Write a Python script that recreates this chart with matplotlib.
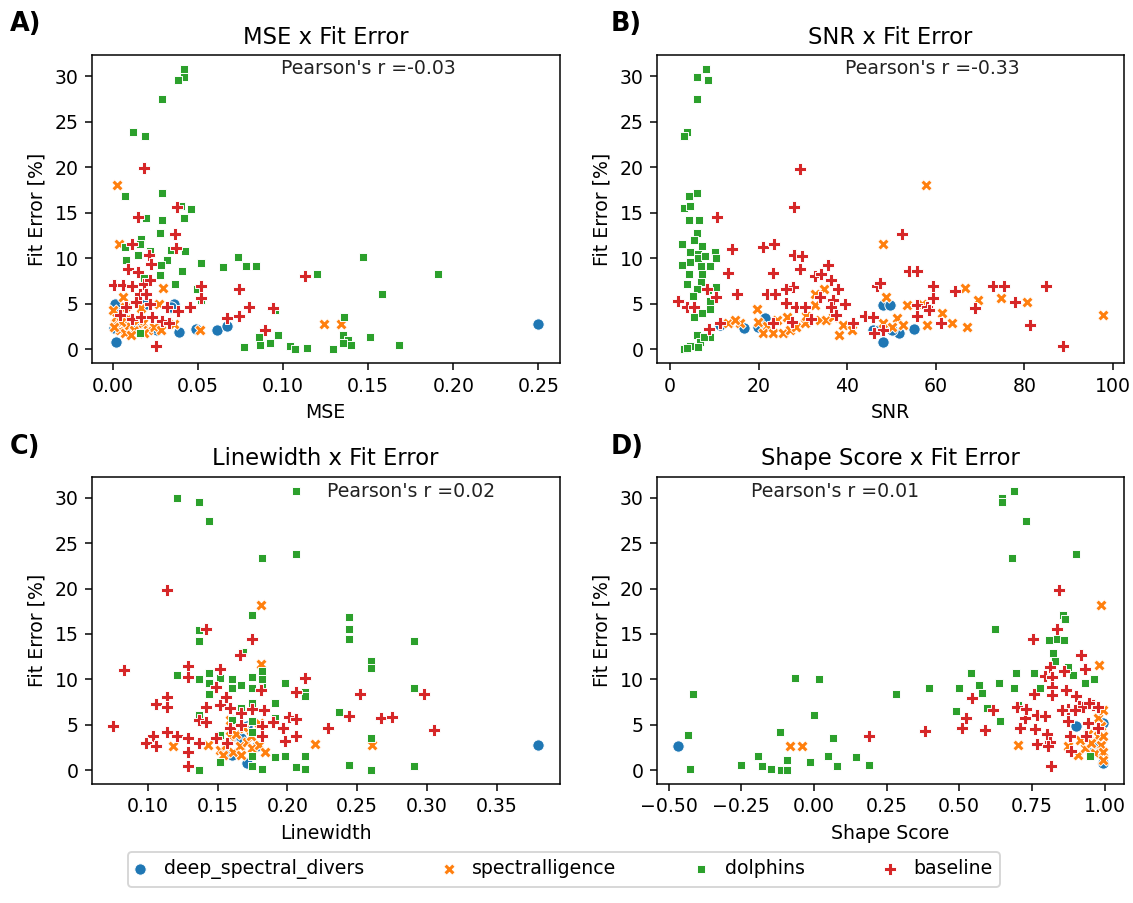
import matplotlib
matplotlib.use("Agg")
import matplotlib.pyplot as plt

# ---------------- data ----------------
teams = ["deep_spectral_divers", "spectralligence", "dolphins", "baseline"]
team_colors = ["#1f77b4", "#ff7f0e", "#2ca02c", "#d62728"]
team_markers = ["o", "X", (4, 0, 45), "P"]

titles = ["MSE x Fit Error", "SNR x Fit Error", "Linewidth x Fit Error", "Shape Score x Fit Error"]
xlabels = ["MSE", "SNR", "Linewidth", "Shape Score"]
panel_tags = ["A)", "B)", "C)", "D)"]
pearson_r = ["-0.03", "-0.33", "0.02", "0.01"]

# Panel A: MSE vs fit error
mse_deep = [(0.002, 0.85), (0.0195, 5.0), (0.036, 5.0), (0.034, 4.7), (0.0259, 2.1), (0.039, 1.95),
            (0.0487, 2.2), (0.0613, 2.1), (0.067, 2.55), (0.001, 5.0), (0.0005, 2.3), (0.003, 3.95),
            (0.0146, 2.5), (0.250, 2.8)]
mse_spec = [(0.0025, 18.1), (0.0033, 11.6), (0.0296, 6.7), (0.0058, 5.8), (0.0272, 5.0), (0.036, 2.8),
            (0.0512, 2.1), (0.124, 2.8), (0.134, 2.8), (0.001, 2.85), (0.0039, 2.1), (0.0068, 1.75),
            (0.0097, 2.7), (0.0019, 3.6), (0.0126, 2.1), (0.0175, 2.85), (0.0204, 2.1), (0.0243, 2.5),
            (0.0088, 3.4), (0.0146, 3.2), (0.0107, 1.6), (0.0185, 1.75), (0.028, 2.1), (0.000, 4.3),
            (0.0049, 3.0), (0.0068, 4.7), (0.0165, 4.5), (0.0005, 2.5)]
mse_dolph = [(0.0415, 30.8), (0.0415, 29.9), (0.0383, 29.6), (0.0286, 27.5), (0.0117, 23.9), (0.0189, 23.4),
             (0.0068, 16.9), (0.0286, 17.2), (0.046, 15.4), (0.040, 15.7), (0.042, 14.4), (0.0286, 14.2),
             (0.0195, 14.4), (0.0278, 12.8), (0.0165, 12.1), (0.016, 11.6), (0.0068, 11.2), (0.015, 10.4),
             (0.0078, 9.8), (0.0424, 10.8), (0.034, 10.9), (0.032, 9.8), (0.028, 9.3), (0.022, 10.8),
             (0.052, 9.5), (0.0403, 8.6), (0.0278, 8.2), (0.0185, 7.8), (0.0364, 7.2), (0.0496, 6.6),
             (0.0734, 10.1), (0.0648, 9.0), (0.0784, 9.1), (0.0843, 9.1), (0.120, 8.3), (0.147, 10.1),
             (0.191, 8.3), (0.158, 6.1), (0.0954, 4.3), (0.136, 3.5), (0.0516, 5.4), (0.0156, 1.8),
             (0.0856, 1.3), (0.0967, 1.6), (0.135, 1.6), (0.138, 1.0), (0.151, 1.4), (0.077, 0.2),
             (0.0862, 0.5), (0.0924, 0.7), (0.104, 0.4), (0.107, 0.0), (0.114, 0.1), (0.129, 0.0),
             (0.135, 0.7), (0.140, 0.5), (0.168, 0.5)]
mse_base = [(0.0185, 19.9), (0.015, 14.5), (0.0376, 15.6), (0.0366, 12.7), (0.037, 11.1), (0.011, 11.6),
            (0.0214, 10.4), (0.0224, 9.4), (0.0088, 8.8), (0.0146, 8.5), (0.0006, 7.1), (0.0058, 7.1),
            (0.011, 7.0), (0.018, 7.2), (0.022, 7.6), (0.0156, 6.1), (0.0195, 6.1), (0.0516, 7.0),
            (0.074, 6.6), (0.113, 8.0), (0.0078, 4.7), (0.0136, 5.2), (0.022, 5.0), (0.032, 4.7),
            (0.038, 4.2), (0.045, 4.6), (0.0516, 5.6), (0.080, 4.6), (0.094, 4.5), (0.074, 3.7),
            (0.067, 3.4), (0.0039, 3.8), (0.011, 3.3), (0.0165, 3.6), (0.023, 3.6), (0.0286, 3.1),
            (0.033, 2.9), (0.0895, 2.1), (0.0253, 0.4)]

# Panel B: SNR vs fit error
snr_deep = [(11.4, 2.7), (16.8, 2.3), (19.9, 2.4), (21.4, 3.4), (48.0, 4.9), (49.6, 4.9), (48.0, 0.85),
            (45.8, 2.1), (47.2, 2.1), (51.7, 1.8), (55.1, 2.2), (50.2, 2.1)]
snr_spec = [(57.7, 18.1), (48.0, 11.6), (48.8, 5.7), (48.2, 2.9), (34.7, 6.6), (32.7, 6.1), (32.7, 4.9),
            (19.7, 4.4), (19.9, 3.0), (13.0, 2.85), (15.7, 2.9), (14.7, 3.2), (21.8, 2.55), (24.1, 3.2),
            (26.4, 3.6), (21.1, 1.8), (23.3, 1.75), (25.6, 1.75), (27.0, 2.1), (28.5, 2.5), (30.4, 2.85),
            (30.8, 3.65), (33.8, 3.2), (35.3, 3.2), (36.8, 3.6), (38.1, 1.6), (39.0, 2.7), (41.2, 2.1),
            (51.3, 3.4), (50.2, 2.5), (52.5, 2.7), (53.6, 4.9), (56.8, 5.0), (58.0, 2.7), (61.5, 4.0),
            (63.7, 2.9), (66.7, 6.7), (69.6, 5.4), (67.1, 2.5), (74.8, 5.6), (80.7, 5.2), (97.7, 3.8)]
snr_dolph = [(8.2, 30.8), (6.0, 29.9), (8.5, 29.6), (6.0, 27.5), (3.8, 23.9), (3.2, 23.4), (4.2, 16.9),
             (6.0, 17.2), (3.2, 15.5), (4.6, 15.7), (4.2, 14.2), (6.5, 14.2), (6.0, 12.8), (5.5, 12.0),
             (2.8, 11.6), (7.2, 11.3), (4.6, 10.7), (6.3, 10.5), (10.1, 10.7), (10.3, 10.0), (6.3, 10.0),
             (8.0, 10.2), (2.8, 9.3), (4.6, 9.6), (6.9, 9.1), (9.0, 9.1), (4.4, 8.3), (7.2, 8.3),
             (3.9, 7.2), (6.9, 7.4), (6.1, 6.6), (10.5, 6.8), (5.2, 5.9), (8.5, 6.5), (9.0, 5.3),
             (9.1, 4.4), (7.2, 4.0), (5.5, 3.5), (6.0, 1.6), (9.1, 1.3), (6.7, 0.8), (7.6, 1.4),
             (3.2, 0.0), (4.6, 0.4), (6.3, 0.2), (3.9, 0.1)]
snr_base = [(1.8, 5.3), (3.8, 4.6), (5.5, 4.6), (8.4, 6.6), (10.3, 5.8), (10.7, 14.5), (14.0, 11.0),
            (13.2, 8.4), (15.1, 6.1), (8.8, 2.2), (11.4, 2.85), (20.9, 11.2), (23.5, 11.6), (23.2, 8.4),
            (21.8, 6.1), (23.7, 6.1), (23.3, 2.9), (29.4, 19.8), (27.9, 15.6), (27.9, 10.4), (29.7, 10.2),
            (29.3, 8.8), (27.8, 6.8), (26.2, 6.6), (26.2, 5.1), (28.5, 4.7), (30.4, 4.7), (27.6, 3.0),
            (31.9, 3.3), (32.7, 8.0), (34.1, 8.3), (35.6, 9.3), (36.4, 7.6), (37.9, 6.6), (33.8, 5.8),
            (36.8, 5.4), (36.4, 4.7), (37.4, 3.8), (39.5, 5.0), (41.3, 2.9), (44.1, 3.7), (45.8, 3.6),
            (46.7, 7.0), (47.4, 7.3), (48.0, 2.1), (52.3, 12.7), (54.0, 8.6), (55.7, 8.6), (55.7, 4.9),
            (55.7, 3.7), (59.4, 7.0), (59.4, 5.6), (58.0, 4.7), (58.4, 4.3), (61.1, 2.9), (64.4, 6.4),
            (68.9, 4.5), (73.0, 7.0), (75.5, 7.0), (77.8, 5.2), (81.2, 2.7), (84.9, 7.0), (88.7, 0.4),
            (46.1, 1.8)]

# Panel C: linewidth vs fit error
lw_deep = [(0.161, 3.7), (0.171, 0.75), (0.160, 1.65), (0.167, 3.5), (0.178, 2.6), (0.156, 2.0),
           (0.171, 4.8), (0.380, 2.8)]
lw_spec = [(0.181, 18.2), (0.181, 11.7), (0.118, 2.65), (0.143, 2.75), (0.220, 2.9), (0.261, 2.75),
           (0.152, 2.2), (0.156, 2.75), (0.161, 2.0), (0.166, 2.6), (0.171, 3.1), (0.175, 2.4),
           (0.180, 2.75), (0.159, 3.7), (0.163, 4.0), (0.169, 4.6), (0.159, 5.5), (0.180, 5.2),
           (0.154, 1.65), (0.167, 1.65), (0.174, 3.7), (0.184, 2.0)]
lw_dolph = [(0.206, 30.8), (0.121, 30.0), (0.137, 29.6), (0.144, 27.5), (0.206, 23.8), (0.182, 23.4),
            (0.175, 17.1), (0.244, 16.9), (0.244, 15.5), (0.244, 14.4), (0.291, 14.2), (0.137, 15.4),
            (0.137, 14.2), (0.168, 13.0), (0.260, 12.0), (0.260, 11.3), (0.121, 10.5), (0.137, 10.0),
            (0.144, 10.7), (0.144, 9.6), (0.152, 10.1), (0.160, 10.0), (0.160, 9.0), (0.167, 9.4),
            (0.175, 10.3), (0.175, 9.0), (0.182, 10.9), (0.182, 10.0), (0.182, 9.2), (0.198, 9.6),
            (0.213, 8.6), (0.213, 8.2), (0.291, 9.0), (0.144, 8.4), (0.175, 7.4), (0.191, 7.4),
            (0.167, 6.8), (0.237, 6.4), (0.137, 6.1), (0.175, 5.4), (0.191, 5.7), (0.175, 4.2),
            (0.152, 3.9), (0.260, 3.5), (0.175, 1.5), (0.191, 1.4), (0.198, 1.5), (0.213, 1.5),
            (0.152, 0.85), (0.175, 0.45), (0.182, 0.1), (0.206, 0.3), (0.213, 0.1), (0.244, 0.55),
            (0.260, 0.0), (0.291, 0.45), (0.137, 0.0), (0.160, 5.5)]
lw_base = [(0.1135, 19.9), (0.0827, 11.0), (0.075, 4.8), (0.1416, 15.5), (0.175, 14.4), (0.166, 12.7),
           (0.129, 11.5), (0.129, 10.3), (0.152, 11.1), (0.149, 9.2), (0.156, 8.1), (0.106, 7.3),
           (0.1135, 8.1), (0.1135, 6.9), (0.142, 6.9), (0.152, 7.2), (0.159, 6.8), (0.167, 6.3),
           (0.175, 6.7), (0.183, 6.6), (0.181, 8.8), (0.206, 8.6), (0.213, 10.2), (0.201, 5.9),
           (0.206, 5.6), (0.252, 8.4), (0.244, 6.0), (0.267, 5.7), (0.275, 5.9), (0.298, 8.4),
           (0.305, 4.4), (0.229, 4.6), (0.190, 5.3), (0.197, 4.6), (0.182, 4.8), (0.137, 5.5),
           (0.142, 5.3), (0.159, 4.6), (0.167, 5.0), (0.1135, 4.2), (0.121, 3.75), (0.104, 3.7),
           (0.099, 2.95), (0.106, 2.6), (0.129, 3.5), (0.129, 2.0), (0.129, 0.45), (0.137, 2.95),
           (0.182, 3.7), (0.198, 3.2), (0.206, 3.7), (0.157, 2.95), (0.149, 3.5)]

# Panel D: shape score vs fit error
shp_deep = [(-0.468, 2.65), (0.994, 0.75), (0.903, 4.8), (0.977, 2.6), (0.954, 1.85), (0.994, 5.2)]
shp_spec = [(0.989, 18.2), (0.981, 11.6), (0.704, 2.75), (-0.083, 2.65), (-0.041, 2.65), (0.977, 5.7),
            (0.989, 4.8), (0.977, 3.7), (0.989, 2.75), (0.909, 1.65), (0.932, 2.4), (0.954, 2.95),
            (0.966, 1.85), (0.994, 2.0), (0.994, 1.1), (0.915, 3.3), (0.875, 2.6), (0.943, 4.0),
            (0.994, 6.6), (0.994, 3.7)]
shp_dolph = [(0.690, 30.8), (0.647, 30.0), (0.647, 29.5), (0.730, 27.5), (0.681, 23.4), (0.903, 23.8),
             (0.622, 15.5), (0.858, 17.1), (0.863, 16.7), (0.810, 14.3), (0.835, 14.4), (0.861, 14.3),
             (0.824, 12.9), (0.829, 12.0), (0.875, 11.4), (0.542, 10.7), (0.695, 10.7), (0.759, 10.7),
             (0.892, 10.5), (0.932, 9.6), (0.964, 10.0), (0.567, 9.4), (0.636, 9.6), (0.579, 8.5),
             (0.499, 9.0), (0.687, 9.0), (0.778, 9.0), (0.395, 9.0), (0.281, 8.4), (0.488, 6.5),
             (0.596, 6.8), (0.641, 5.4), (0.702, 7.2), (0.949, 1.55), (-0.417, 8.4), (-0.434, 3.9),
             (-0.428, 0.1), (-0.064, 10.1), (0.016, 10.0), (0.001, 6.1), (-0.118, 4.2), (0.064, 3.5),
             (-0.250, 0.55), (-0.193, 1.5), (-0.178, 0.45), (-0.147, 0.1), (-0.115, 0.0), (-0.093, 0.0),
             (-0.093, 1.1), (-0.015, 0.85), (0.050, 1.55), (0.080, 0.45), (0.144, 1.4), (0.190, 0.5)]
shp_base = [(0.190, 3.7), (0.383, 4.3), (0.511, 4.6), (0.522, 5.7), (0.545, 7.9), (0.588, 4.4),
            (0.615, 6.6), (0.698, 7.0), (0.710, 4.6), (0.727, 5.7), (0.729, 6.7), (0.755, 14.4),
            (0.759, 8.4), (0.767, 6.1), (0.761, 4.5), (0.767, 2.9), (0.795, 6.0), (0.801, 4.0),
            (0.795, 10.4), (0.812, 11.4), (0.820, 10.3), (0.818, 9.2), (0.820, 8.3), (0.843, 19.9),
            (0.835, 15.5), (0.861, 10.9), (0.869, 8.8), (0.875, 6.7), (0.875, 5.4), (0.880, 3.75),
            (0.812, 3.1), (0.806, 2.6), (0.816, 0.4), (0.886, 2.1), (0.903, 8.2), (0.918, 12.7),
            (0.932, 11.1), (0.911, 7.1), (0.926, 7.0), (0.943, 5.2), (0.938, 3.7), (0.960, 7.2),
            (0.977, 7.0), (0.977, 4.6), (0.945, 7.4), (0.898, 6.6), (0.854, 6.6)]

panels = [
    [mse_deep, mse_spec, mse_dolph, mse_base],
    [snr_deep, snr_spec, snr_dolph, snr_base],
    [lw_deep, lw_spec, lw_dolph, lw_base],
    [shp_deep, shp_spec, shp_dolph, shp_base],
]

# ---------------- layout ----------------
W, H, DPI = 1133, 903, 136
fig = plt.figure(figsize=(W / DPI, H / DPI), dpi=DPI)

axes_rects = [
    (91.7 / W, 1 - 363.3 / H, 468 / W, 308.3 / H),
    (656.7 / W, 1 - 363.3 / H, 467.3 / W, 308.3 / H),
    (91.7 / W, 1 - 784 / H, 468 / W, 307.3 / H),
    (656.7 / W, 1 - 784 / H, 467.3 / W, 307.3 / H),
]
text_pos = [(0.404, 0.955), (0.403, 0.955), (0.502, 0.951), (0.201, 0.951)]
tag_pos = [(10 / W, 1 - 24 / H), (611 / W, 1 - 24 / H), (10 / W, 1 - 447 / H), (611 / W, 1 - 447 / H)]

handles = []
for i, series in enumerate(panels):
    ax = fig.add_axes(axes_rects[i])
    for j, pts in enumerate(series):
        xs = [p[0] for p in pts]
        ys = [p[1] for p in pts]
        h = ax.scatter(xs, ys, s=36, c=team_colors[j], marker=team_markers[j],
                       edgecolors="white", linewidths=0.5, label=teams[j], zorder=2 + j)
        if i == 0:
            handles.append(h)
    ax.set_title(titles[i], fontsize=12)
    ax.set_xlabel(xlabels[i], fontsize=10)
    ax.set_ylabel("Fit Error [%]", fontsize=10)
    ax.set_yticks([0, 5, 10, 15, 20, 25, 30])
    ax.text(text_pos[i][0], text_pos[i][1], "Pearson's r =" + pearson_r[i],
            transform=ax.transAxes, ha="left", va="center", fontsize=10, color="#222222")
    fig.text(tag_pos[i][0], tag_pos[i][1], panel_tags[i], fontsize=13.5, fontweight="bold",
             ha="left", va="center")

fig.legend(handles, teams, loc="lower left", ncol=4, mode="expand",
           bbox_to_anchor=(128 / W, 1 - 887 / H, 872 / W, 40 / H),
           fontsize=10, frameon=True, borderaxespad=0.0, handletextpad=1.0,
           handlelength=0.5)

fig.savefig("out.png", dpi=DPI)
